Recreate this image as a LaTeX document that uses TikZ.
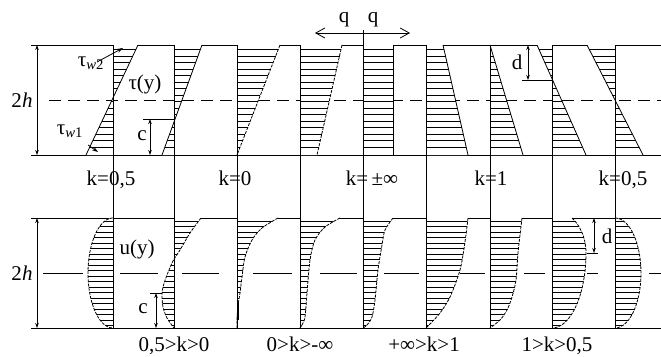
\documentclass[tikz,border=0pt]{standalone}
\usepackage{fontspec}
\setmainfont{Liberation Serif}
\usetikzlibrary{arrows.meta}
\newcommand{\hatchreg}[4]{%
  \begin{scope}
    \fill[white] #1;
    \clip #1;
    \foreach \hy in {#2,#3,...,#4} \draw[hatchline] (0,\hy) -- (661,\hy);
  \end{scope}}
% top-band linear profile: axis x, boundary x at top (y=45), boundary x at bottom (y=155)
\newcommand{\tophatch}[3]{%
  \fill[white] (#1,45) -- (#2,45) -- (#3,155) -- (#1,155) -- cycle;
  \foreach \hy in {49.5,56,...,152}
    \draw[hatchline] (#1,\hy) -- ({#2+(#3-#2)*(\hy-45)/110},\hy);}
\begin{document}
\begin{tikzpicture}[x=1pt,y=-1pt,
  every node/.style={font=\fontsize{21}{24}\selectfont, inner sep=0pt},
  band/.style={line width=1pt},
  axisline/.style={line width=1pt},
  prof/.style={line width=0.8pt},
  dprof/.style={line width=0.8pt, dash pattern=on 3pt off 1.2pt},
  hatchline/.style={line width=0.8pt},
  dim/.style={line width=0.8pt, {Stealth[length=5pt,width=3.5pt]}-{Stealth[length=5pt,width=3.5pt]}},
  ann/.style={line width=0.8pt, -{Stealth[length=6pt,width=4pt]}},
  qarrow/.style={line width=0.8pt, {Straight Barb[length=9pt,width=10pt]}-{Straight Barb[length=9pt,width=10pt]}}
]
\useasboundingbox (0,0) rectangle (661,356);

% band boundaries
\foreach \yy in {45,155,218,328} \draw[band] (31,\yy) -- (661,\yy);
% centre lines
\draw[band, dash pattern=on 12pt off 7pt] (49,100) -- (661,100);
\foreach \a/\b in {43/83,120/158,182/219,253/292,320/357,384/419,460/485,524/545,587/598,649/661}
  \draw[band] (\a,273) -- (\b,273);

% ---------- top band: tau profiles ----------
\tophatch{113}{138}{86}
\tophatch{174}{202}{162}
\tophatch{237}{280}{237}
\tophatch{300}{342}{317}
\tophatch{363}{393}{393}
\tophatch{426}{443}{468}
\tophatch{490}{490}{523}
\tophatch{552}{537}{586}
\tophatch{615}{587}{643}

\draw[prof] (138,45) -- (86,155);
\draw[prof] (202,45) -- (162,155);
\draw[dprof] (280,45) -- (237,155);
\draw[dprof] (342,45) -- (317,155);
\draw[prof] (393,45) -- (393,155);
\draw[prof] (443,45) -- (468,155);
\draw[prof] (490,45) -- (523,155);
\draw[prof] (537,45) -- (586,155);
\draw[prof] (587,45) -- (643,155);

% ---------- lower band: u profiles ----------
\hatchreg{(113,218) -- plot[domain=-90:90,samples=40] ({113-25*cos(\x)},{273+55*sin(\x)}) -- cycle}{221}{226.5}{326}
\hatchreg{(174,218) -- plot[smooth] coordinates {(201,218) (190,233) (180,250) (173,261) (167,275) (163,287) (162,295) (163,307) (167,318) (174,328)} -- cycle}{221}{226.5}{326}
\hatchreg{(237,218) -- plot[smooth] coordinates {(278,218) (262,228) (252,240) (245,257) (242,277) (240,293) (238,305) (237,318) (237,328)} -- cycle}{221}{226.5}{326}
\hatchreg{(300,218) -- plot[smooth] coordinates {(340,218) (325,227) (315,240) (310,260) (307,293) (305,317) (302,325) (300,328)} -- cycle}{221}{226.5}{326}
\hatchreg{(363,218) -- plot[smooth] coordinates {(393,218) (385,230) (382,245) (378,270) (375,300) (372,317) (367,325) (363,328)} -- cycle}{221}{226.5}{326}
\hatchreg{(426,218) -- plot[smooth] coordinates {(468,218) (465,242) (460,270) (450,297) (440,313) (430,324) (426,328)} -- cycle}{221}{226.5}{326}
\hatchreg{(490,218) -- plot[smooth] coordinates {(522,218) (518,253) (516,280) (512,297) (507,310) (500,320) (490,328)} -- cycle}{221}{226.5}{326}
\hatchreg{(552,218) -- plot[domain=53.9:0,samples=15] ({552+34*cos(\x)},{253-43.3*sin(\x)}) -- plot[domain=0:90,samples=30] ({552+34*cos(\x)},{253+75*sin(\x)}) -- cycle}{221}{226.5}{326}
\hatchreg{(615,218) -- plot[domain=-90:90,samples=40] ({615+26*cos(\x)},{273+55*sin(\x)}) -- cycle}{221}{226.5}{326}

\draw[dprof] plot[domain=-90:90,samples=40] ({113-25*cos(\x)},{273+55*sin(\x)});
\draw[dprof] plot[smooth] coordinates {(201,218) (190,233) (180,250) (173,261) (167,275) (163,287) (162,295) (163,307) (167,318) (174,328)};
\draw[dprof] plot[smooth] coordinates {(278,218) (262,228) (252,240) (245,257) (242,277) (240,293) (238,305) (237,318) (237,328)};
\draw[line width=2pt] (238,303) -- (238,320);
\draw[dprof] plot[smooth] coordinates {(340,218) (325,227) (315,240) (310,260) (307,293) (305,317) (302,325) (300,328)};
\draw[dprof] plot[smooth] coordinates {(393,218) (385,230) (382,245) (378,270) (375,300) (372,317) (367,325) (363,328)};
\draw[dprof] plot[smooth] coordinates {(468,218) (465,242) (460,270) (450,297) (440,313) (430,324) (426,328)};
\draw[dprof] plot[smooth] coordinates {(522,218) (518,253) (516,280) (512,297) (507,310) (500,320) (490,328)};
\draw[dprof] plot[domain=53.9:0,samples=15] ({552+34*cos(\x)},{253-43.3*sin(\x)}) -- plot[domain=0:90,samples=30] ({552+34*cos(\x)},{253+75*sin(\x)});
\draw[dprof] plot[domain=-90:90,samples=40] ({615+26*cos(\x)},{273+55*sin(\x)});

% ---------- axes ----------
\foreach \xx in {113,174,237,300,426,490,552,615} \draw[axisline] (\xx,45) -- (\xx,328);
\draw[axisline] (363,30) -- (363,328);

% ---------- dimension marks ----------
\coordinate (h1t) at (37,45);  \coordinate (h1b) at (37,155);
\coordinate (h2t) at (37,218); \coordinate (h2b) at (37,328);
\draw[dim] (h1t) -- (h1b);
\draw[dim] (h2t) -- (h2b);
\node (lab2h1) at (22,100) {2\textit{h}};
\node (lab2h2) at (22,273) {2\textit{h}};

% c (top)
\coordinate (ct1) at (143,119); \coordinate (ct2) at (174,119);
\draw[prof] (ct1) -- (ct2);
\coordinate (cta) at (150,119); \coordinate (ctb) at (150,155);
\draw[dim] (cta) -- (ctb);
\node (labct) at (142,136) {c};
% d (top)
\coordinate (dt1) at (522,80); \coordinate (dt2) at (552,80);
\draw[prof] (dt1) -- (dt2);
\coordinate (dta) at (528,45); \coordinate (dtb) at (528,80);
\draw[dim] (dta) -- (dtb);
\node (labdt) at (517,62) {d};
% c (bottom)
\coordinate (cb1) at (150,293); \coordinate (cb2) at (162,293);
\draw[prof] (cb1) -- (cb2);
\coordinate (cba) at (156,293); \coordinate (cbb) at (156,328);
\draw[dim] (cba) -- (cbb);
\node (labcb) at (143,309) {c};
% d (bottom)
\coordinate (db1) at (587,253); \coordinate (db2) at (598,253);
\draw[prof] (db1) -- (db2);
\coordinate (dba) at (594,218); \coordinate (dbb) at (594,253);
\draw[dim] (dba) -- (dbb);
\node (labdb) at (607,236) {d};

% tau labels
\node (tw2) at (91,63) {τ\textsubscript{\textit{w}2}};
\coordinate (tw2s) at (97,62); \coordinate (tw2e) at (123,48);
\draw[ann] (tw2s) -- (tw2e);
\node (tw1) at (70,131) {τ\textsubscript{\textit{w}1}};
\coordinate (tw1s) at (88,145); \coordinate (tw1e) at (98,152);
\draw[ann] (tw1s) -- (tw1e);
\node (tauy) at (145,84) {τ(y)};
\node (uy) at (137,249) {u(y)};

% q arrows
\coordinate (qa) at (315,33); \coordinate (qb) at (410,33);
\draw[qarrow] (qa) -- (qb);
\node[anchor=base] (q1) at (344,22) {q};
\node[anchor=base] (q2) at (373,22) {q};

% k labels (top)
\node[anchor=base] (k1) at (111,185) {k=0,5};
\node[anchor=base] (k2) at (235,185) {k=0};
\node[anchor=base] (k3) at (372,185) {k=\,±∞};
\node[anchor=base] (k4) at (491,185) {k=1};
\node[anchor=base] (k5) at (623,185) {k=0,5};

% k ranges (bottom)
\node[anchor=base] (r1) at (174,351) {0,5>k>0};
\node[anchor=base] (r2) at (300,351) {0>k>-∞};
\node[anchor=base] (r3) at (424,351) {+∞>k>1};
\node[anchor=base] (r4) at (557,351) {1>k>0,5};
\end{tikzpicture}
\end{document}
